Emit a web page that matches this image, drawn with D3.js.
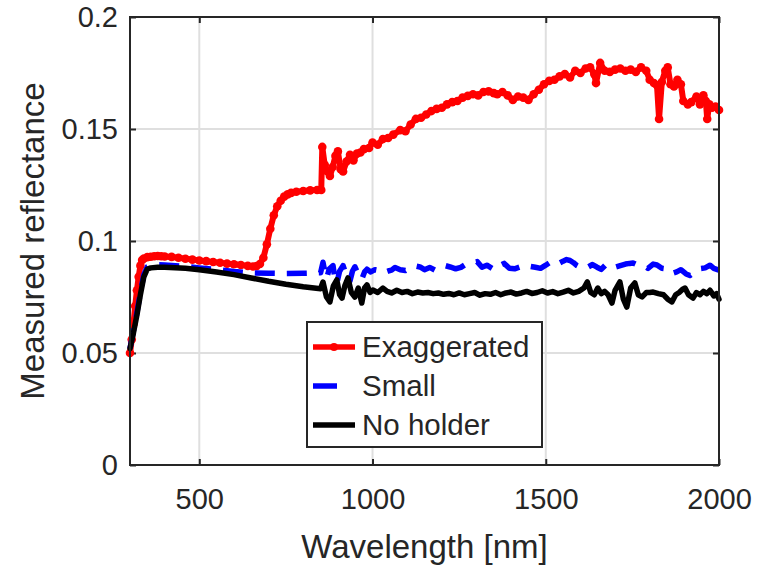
<!DOCTYPE html>
<html>
<head>
<meta charset="utf-8">
<script src="https://cdn.jsdelivr.net/npm/d3@7"></script>
<style>
  body { margin: 0; background: #fff; }
  text { font-family: "Liberation Sans", Arial, Helvetica, sans-serif; fill: #262626; }
</style>
</head>
<body>
<div id="chart"></div>
<script>
// wavelength [nm] / reflectance
var redWl = [300,305,310,315,320,325,330,335,340,350,360,370,380,390,400,420,440,460,480,500,520,540,560,580,600,620,640,655,665,675,685,695,705,715,725,735,745,755,765,780,800,820,840,852,855,862,870,877,885,893,900,908,915,925,935,945,955,965,975,990,1000,1015,1030,1045,1060,1080,1095,1110,1125,1140,1155,1170,1185,1200,1215,1230,1245,1260,1275,1290,1305,1320,1335,1350,1360,1375,1390,1405,1420,1435,1450,1465,1480,1495,1510,1525,1540,1555,1570,1585,1600,1615,1628,1640,1645,1657,1670,1685,1700,1715,1730,1745,1760,1775,1790,1800,1812,1821,1827,1835,1845,1852,1860,1870,1880,1890,1897,1910,1920,1935,1945,1955,1962,1966,1972,1980,1990,2000];
var redVal = [0.050,0.056,0.063,0.071,0.078,0.084,0.089,0.0915,0.0922,0.0928,0.0930,0.0932,0.0933,0.0932,0.0931,0.0929,0.0925,0.0921,0.0917,0.0913,0.0910,0.0906,0.0903,0.0899,0.0896,0.0893,0.0889,0.0886,0.0888,0.0897,0.0925,0.0985,0.1055,0.1115,0.1155,0.1180,0.1198,0.1208,0.1215,0.1220,0.1223,0.1226,0.1228,0.1228,0.1420,0.1340,0.1310,0.1290,0.1330,0.1380,0.1400,0.1320,0.1310,0.1355,0.1385,0.1360,0.1390,0.1395,0.1410,0.1415,0.1440,0.1430,0.1455,0.1460,0.1475,0.1495,0.1490,0.1520,0.1545,0.1550,0.1565,0.1580,0.1590,0.1595,0.1610,0.1620,0.1625,0.1640,0.1648,0.1655,0.1650,0.1665,0.1668,0.1660,0.1655,0.1665,0.1650,0.1630,0.1645,0.1640,0.1630,0.1655,0.1675,0.1700,0.1715,0.1720,0.1735,0.1745,0.1730,0.1760,0.1750,0.1770,0.1775,0.1745,0.1705,0.1795,0.1760,0.1755,0.1765,0.1770,0.1760,0.1765,0.1755,0.1775,0.1760,0.1720,0.1705,0.1695,0.1545,0.1710,0.1760,0.1775,0.1700,0.1690,0.1720,0.1700,0.1625,0.1610,0.1620,0.1645,0.1610,0.1650,0.1625,0.1545,0.1610,0.1595,0.1600,0.1585];

var blueWl = [300,310,320,330,340,350,360,380,400,450,500,550,600,650,700,750,800,850,857,862,868,875,886,891,897,905,915,925,935,942,949,958,969,977,984,995,1007,1020,1030,1045,1055,1065,1080,1095,1110,1125,1137,1150,1165,1180,1195,1210,1224,1240,1255,1270,1285,1302,1316,1330,1345,1358,1368,1380,1395,1410,1425,1440,1455,1470,1485,1500,1510,1521,1535,1550,1560,1570,1580,1590,1605,1620,1635,1648,1660,1672,1685,1700,1715,1730,1742,1752,1765,1780,1795,1810,1821,1835,1850,1864,1878,1890,1905,1916,1930,1945,1960,1974,1985,2000];
var blueVal = [0.052,0.060,0.068,0.077,0.085,0.0885,0.0892,0.0894,0.0893,0.0888,0.0880,0.0872,0.0864,0.0858,0.0856,0.0855,0.0856,0.0858,0.0905,0.0865,0.0835,0.0875,0.0890,0.0835,0.0812,0.0865,0.0890,0.0845,0.0822,0.0865,0.0885,0.0855,0.0830,0.0862,0.0874,0.0862,0.0872,0.0868,0.0858,0.0866,0.0870,0.0882,0.0872,0.0868,0.0882,0.0888,0.0884,0.0872,0.0882,0.0870,0.0882,0.0890,0.0884,0.0876,0.0882,0.0897,0.0902,0.0908,0.0883,0.0892,0.0878,0.0897,0.0891,0.0900,0.0878,0.0876,0.0884,0.0878,0.0887,0.0883,0.0878,0.0892,0.0902,0.0908,0.0898,0.0910,0.0917,0.0913,0.0903,0.0890,0.0878,0.0882,0.0895,0.0883,0.0873,0.0892,0.0895,0.0883,0.0890,0.0897,0.0900,0.0902,0.0893,0.0892,0.0878,0.0897,0.0893,0.0878,0.0875,0.0855,0.0862,0.0872,0.0853,0.0846,0.0862,0.0877,0.0880,0.0892,0.0878,0.0870];

var blackWl = [300,310,320,330,340,350,360,380,400,430,460,500,550,600,650,700,750,800,850,857,867,877,887,897,905,912,920,929,939,949,959,969,977,984,993,1001,1015,1030,1042,1055,1070,1085,1100,1115,1130,1145,1160,1175,1190,1205,1220,1235,1250,1265,1280,1295,1310,1325,1340,1355,1370,1385,1400,1415,1430,1445,1460,1475,1490,1505,1520,1535,1550,1565,1580,1595,1610,1620,1630,1640,1650,1660,1670,1680,1691,1700,1714,1724,1734,1745,1757,1767,1778,1790,1800,1810,1825,1840,1852,1864,1875,1885,1895,1902,1912,1925,1935,1945,1955,1965,1974,1985,1993,2000];
var blackVal = [0.052,0.059,0.067,0.076,0.084,0.0875,0.0880,0.0883,0.0883,0.0881,0.0878,0.0872,0.0862,0.0850,0.0835,0.0820,0.0807,0.0796,0.0787,0.0817,0.0750,0.0728,0.0800,0.0826,0.0760,0.0745,0.0800,0.0835,0.0770,0.0750,0.0790,0.0723,0.0790,0.0804,0.0770,0.0781,0.0770,0.0790,0.0775,0.0768,0.0780,0.0770,0.0775,0.0765,0.0772,0.0768,0.0770,0.0765,0.0768,0.0762,0.0766,0.0760,0.0768,0.0760,0.0765,0.0770,0.0758,0.0765,0.0762,0.0770,0.0760,0.0768,0.0772,0.0763,0.0768,0.0775,0.0766,0.0770,0.0778,0.0768,0.0774,0.0765,0.0772,0.0780,0.0768,0.0775,0.0790,0.0817,0.0770,0.0760,0.0790,0.0765,0.0775,0.0760,0.0723,0.0780,0.0817,0.0740,0.0705,0.0790,0.0813,0.0760,0.0750,0.0770,0.0770,0.0772,0.0765,0.0760,0.0740,0.0728,0.0760,0.0770,0.0785,0.0790,0.0760,0.0745,0.0770,0.0760,0.0775,0.0765,0.0780,0.0755,0.0765,0.0740];

var xTicks = [500, 1000, 1500, 2000];
var yTicks = [0, 0.05, 0.1, 0.15, 0.2];
var yTickLabels = ["0", "0.05", "0.1", "0.15", "0.2"];
var seriesNames = ["Exaggerated", "Small", "No holder"];

var W = 760, H = 566;
var margin = {top: 17, right: 41, bottom: 101, left: 130};
var width = W - margin.left - margin.right,
  height = H - margin.top - margin.bottom;

var svg = d3.select("#chart").append("svg")
  .attr("width", W)
  .attr("height", H);

var g = svg.append("g")
  .attr("transform", "translate(" + margin.left + "," + margin.top + ")");

var x = d3.scaleLinear().domain([300, 2000]).range([0, width]);
var y = d3.scaleLinear().domain([0, 0.2]).range([height, 0]);

var axisColor = "#262626";

// grid
g.append("g").selectAll("line.gx")
  .data(xTicks).enter().append("line")
  .attr("x1", function(d) { return x(d); })
  .attr("x2", function(d) { return x(d); })
  .attr("y1", 0).attr("y2", height)
  .attr("stroke", "#dfdfdf").attr("stroke-width", 2);
g.append("g").selectAll("line.gy")
  .data(yTicks).enter().append("line")
  .attr("x1", 0).attr("x2", width)
  .attr("y1", function(d) { return y(d); })
  .attr("y2", function(d) { return y(d); })
  .attr("stroke", "#dfdfdf").attr("stroke-width", 2);

function styleAxis(sel, fs) {
  sel.select(".domain").remove();
  sel.selectAll(".tick line").attr("stroke", axisColor).attr("stroke-width", 2);
  sel.selectAll(".tick text").attr("fill", axisColor).style("font-size", fs + "px")
    .style("font-family", "'Liberation Sans', Arial, Helvetica, sans-serif");
}

var xAxis = g.append("g")
  .attr("transform", "translate(0," + height + ")")
  .call(d3.axisBottom(x).tickValues(xTicks).tickSizeInner(-6).tickSizeOuter(0).tickPadding(23)
    .tickFormat(d3.format("d")));
styleAxis(xAxis, 29);

var yAxis = g.append("g")
  .call(d3.axisLeft(y).tickValues(yTicks).tickSizeInner(-6).tickSizeOuter(0).tickPadding(12)
    .tickFormat(function(d, i) { return yTickLabels[i]; }));
styleAxis(yAxis, 29);

var topAxis = g.append("g")
  .call(d3.axisTop(x).tickValues(xTicks).tickSizeInner(-6).tickSizeOuter(0).tickFormat(""));
styleAxis(topAxis, 29);
var rightAxis = g.append("g")
  .attr("transform", "translate(" + width + ",0)")
  .call(d3.axisRight(y).tickValues(yTicks).tickSizeInner(-6).tickSizeOuter(0).tickFormat(""));
styleAxis(rightAxis, 29);

// series
function pts(wl, val) {
  return wl.map(function(d, i) { return [d, val[i]]; });
}
var line = d3.line()
  .x(function(d) { return x(d[0]); })
  .y(function(d) { return y(d[1]); });

var redData = pts(redWl, redVal),
  blueData = pts(blueWl, blueVal),
  blackData = pts(blackWl, blackVal);

g.append("path").datum(redData)
  .attr("d", line).attr("fill", "none")
  .attr("stroke", "#ff0000").attr("stroke-width", 6)
  .attr("stroke-linejoin", "round").attr("stroke-linecap", "round");
g.append("g").selectAll("circle")
  .data(redData).enter().append("circle")
  .attr("cx", function(d) { return x(d[0]); })
  .attr("cy", function(d) { return y(d[1]); })
  .attr("r", 4.3)
  .attr("fill", "#ff0000");

g.append("path").datum(blueData)
  .attr("d", line).attr("fill", "none")
  .attr("stroke", "#0000ff").attr("stroke-width", 5.5)
  .attr("stroke-dasharray", "20,12")
  .attr("stroke-linejoin", "round");

g.append("path").datum(blackData)
  .attr("d", line).attr("fill", "none")
  .attr("stroke", "#000000").attr("stroke-width", 5.5)
  .attr("stroke-linejoin", "round").attr("stroke-linecap", "round");

// box
g.append("rect")
  .attr("x", 0).attr("y", 0)
  .attr("width", width).attr("height", height)
  .attr("fill", "none").attr("stroke", axisColor).attr("stroke-width", 2);

// axis labels
svg.append("text")
  .attr("x", margin.left + width / 2)
  .attr("y", 558)
  .attr("text-anchor", "middle")
  .style("font-size", "33px")
  .text("Wavelength [nm]");

svg.append("text")
  .attr("transform", "translate(44," + (margin.top + height / 2) + ") rotate(-90)")
  .attr("text-anchor", "middle")
  .style("font-size", "33px")
  .text("Measured reflectance");

// legend
var legend = svg.append("g").attr("transform", "translate(307,322)");
legend.append("rect")
  .attr("width", 235).attr("height", 125)
  .attr("fill", "#fff").attr("stroke", axisColor).attr("stroke-width", 2);

var legColors = ["#ff0000", "#0000ff", "#000000"];
seriesNames.forEach(function(name, i) {
  var ly = 25 + i * 39;
  var item = legend.append("g").attr("transform", "translate(0," + ly + ")");
  if (i === 1) {
    item.append("line").attr("x1", 6).attr("x2", 30).attr("y1", 0).attr("y2", 0)
      .attr("stroke", legColors[i]).attr("stroke-width", 5.5);
  } else {
    item.append("line").attr("x1", 6).attr("x2", 48).attr("y1", 0).attr("y2", 0)
      .attr("stroke", legColors[i]).attr("stroke-width", 5.5);
  }
  if (i === 0) {
    item.append("circle").attr("cx", 27).attr("cy", 0).attr("r", 4).attr("fill", legColors[i]);
  }
  item.append("text")
    .attr("x", 55).attr("y", 0).attr("dy", "0.35em")
    .style("font-size", "29.5px")
    .attr("fill", "#000")
    .text(name);
});
</script>
</body>
</html>
